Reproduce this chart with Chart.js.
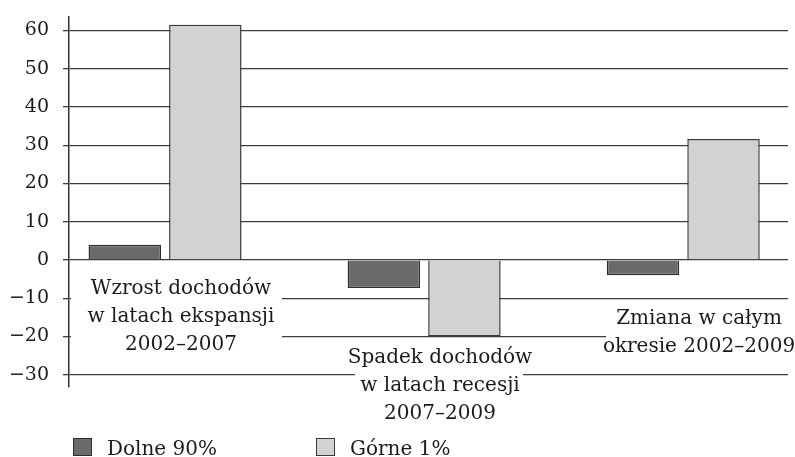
<!DOCTYPE html>
<html lang="pl">
<head>
<meta charset="utf-8">
<title>Zmiany dochodów 2002–2009</title>
<script src="https://cdn.jsdelivr.net/npm/chart.js@4/dist/chart.umd.min.js"></script>
<style>
  html, body { margin: 0; padding: 0; background: #ffffff; }
  #wrap { position: relative; width: 795px; height: 457px; }
</style>
</head>
<body>
<div id="wrap"><canvas id="chart"></canvas></div>
<script>
// Okresy (kategorie), każdy opis w kilku wierszach
const categories = [
  ['Wzrost dochodów', 'w latach ekspansji', '2002–2007'],
  ['Spadek dochodów', 'w latach recesji', '2007–2009'],
  ['Zmiana w całym', 'okresie 2002–2009']
];
const seriesNames = ['Dolne 90%', 'Górne 1%'];
// Zmiana realnych dochodów, w %
const dolne90 = [4, -7.3, -4];
const gorne1 = [61.5, -20, 31.6];
const yTicks = [-30, -20, -10, 0, 10, 20, 30, 40, 50, 60];

const FONT = "'DejaVu Serif', 'Liberation Serif', serif";
const TEXT = '#1c1a1b';
const COLORS = [
  { fill: '#6a6a6d', border: '#2e2e2e' },
  { fill: '#d1d2d4', border: '#3a3a3a' }
];

// Opisy okresów na białym tle, w obszarze wykresu (środek x, pierwsza linia bazowa, prostokąt tła)
const labelLayout = [
  { cx: 181, y0: 294, box: [71, 268, 211, 92] },
  { cx: 440, y0: 363, box: [355, 341, 168, 89] },
  { cx: 699, y0: 324, box: [606, 302, 189, 60] }
];
const LINE_H = 28;

const periodLabels = {
  id: 'periodLabels',
  afterDraw(chart) {
    const ctx = chart.ctx;
    ctx.save();
    ctx.font = '20px ' + FONT;
    ctx.textAlign = 'center';
    ctx.textBaseline = 'alphabetic';
    categories.forEach((lines, i) => {
      const L = labelLayout[i];
      ctx.fillStyle = '#ffffff';
      ctx.fillRect(L.box[0], L.box[1], L.box[2], L.box[3]);
      ctx.fillStyle = TEXT;
      lines.forEach((t, k) => ctx.fillText(t, L.cx, L.y0 + k * LINE_H));
    });

    // Legenda pod wykresem
    const legendX = [73, 316];
    chart.data.datasets.forEach((ds, i) => {
      const x = legendX[i];
      const y = 438;
      ctx.fillStyle = ds.backgroundColor;
      ctx.fillRect(x, y, 19, 18);
      ctx.strokeStyle = ds.borderColor;
      ctx.lineWidth = 1;
      ctx.strokeRect(x + 0.5, y + 0.5, 18, 17);
      ctx.fillStyle = TEXT;
      ctx.textAlign = 'left';
      ctx.fillText(ds.label, x + 34, 455);
    });
    ctx.restore();
  }
};

const makeSet = (name, values, c) => ({
  label: name,
  data: values.map((v, i) => ({ x: i, y: v })),
  backgroundColor: c.fill,
  borderColor: c.border,
  borderWidth: 1.5,
  borderSkipped: 'start',
  categoryPercentage: 0.6216,
  barPercentage: 0.9
});

new Chart(document.getElementById('chart'), {
  type: 'bar',
  data: {
    datasets: [
      makeSet(seriesNames[0], dolne90, COLORS[0]),
      makeSet(seriesNames[1], gorne1, COLORS[1])
    ]
  },
  options: {
    responsive: true,
    maintainAspectRatio: false,
    animation: false,
    layout: { padding: { left: 0, top: 17, right: 7, bottom: 70 } },
    plugins: {
      legend: { display: false },
      tooltip: { enabled: false }
    },
    scales: {
      x: {
        type: 'linear',
        min: -0.3707,
        max: 2.4043,
        display: false,
        offset: false,
        afterBuildTicks: s => { s.ticks = categories.map((c, i) => ({ value: i })); }
      },
      y: {
        min: -33.2,
        max: 63.5,
        afterBuildTicks: s => { s.ticks = yTicks.map(v => ({ value: v })); },
        afterFit: s => { s.width = 69; s.paddingTop = 0; s.paddingBottom = 0; },
        ticks: {
          padding: 14,
          color: TEXT,
          font: { family: FONT, size: 19 },
          callback: v => (v < 0 ? '\u2212' + Math.abs(v) : String(v))
        },
        grid: {
          color: '#3c3c3c',
          lineWidth: 1.3,
          tickLength: 6,
          drawTicks: true
        },
        border: { color: '#333333', width: 1.5 }
      }
    }
  },
  plugins: [periodLabels]
});
</script>
</body>
</html>
